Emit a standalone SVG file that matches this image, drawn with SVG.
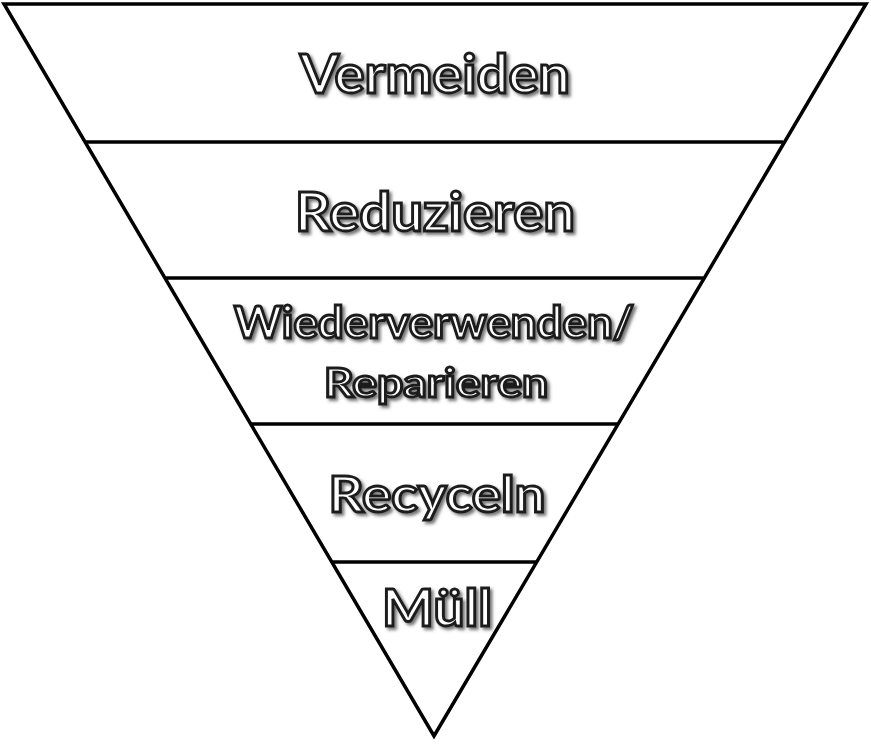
<svg xmlns="http://www.w3.org/2000/svg" width="871" height="744" viewBox="0 0 871 744">
<style>
.edge{fill:none;stroke:#000;stroke-width:3.5;stroke-linejoin:miter}
.sep{stroke:#000;stroke-width:3.5}
.lbl{font-family:Lato,"Open Sans","Liberation Sans",sans-serif;font-weight:bold;fill:#fff;stroke:#1a1a1a;stroke-width:2.8;text-anchor:middle;filter:url(#sh)}
</style>
<defs>
<filter id="sh" x="-10%" y="-30%" width="120%" height="160%">
<feDropShadow dx="2.5" dy="2.5" stdDeviation="1.8" flood-color="#555" flood-opacity="0.8"/>
</filter>
</defs>
<rect width="871" height="744" fill="#fff"/>
<g id="connectors">
<polygon class="edge" points="4,4 866,4 434,736"/>
<line class="sep" x1="85" y1="142" x2="783" y2="142"/>
<line class="sep" x1="165" y1="278" x2="703" y2="278"/>
<line class="sep" x1="251" y1="424" x2="617" y2="424"/>
<line class="sep" x1="332" y1="562" x2="536" y2="562"/>
</g>
<g id="n1"><text class="lbl" x="435" y="93" font-size="54" textLength="270" lengthAdjust="spacingAndGlyphs">Vermeiden</text></g>
<g id="n2"><text class="lbl" x="435" y="231" font-size="54" textLength="280" lengthAdjust="spacingAndGlyphs">Reduzieren</text></g>
<g id="n3"><text class="lbl" x="434" y="338" font-size="44" textLength="400" lengthAdjust="spacingAndGlyphs">Wiederverwenden/</text>
<text class="lbl" x="436" y="397" font-size="41" textLength="224" lengthAdjust="spacingAndGlyphs">Reparieren</text></g>
<g id="n4"><text class="lbl" x="437" y="512" font-size="50" textLength="217" lengthAdjust="spacingAndGlyphs">Recyceln</text></g>
<g id="n5"><text class="lbl" x="437" y="626" font-size="52" textLength="110" lengthAdjust="spacingAndGlyphs">Müll</text></g>
</svg>
